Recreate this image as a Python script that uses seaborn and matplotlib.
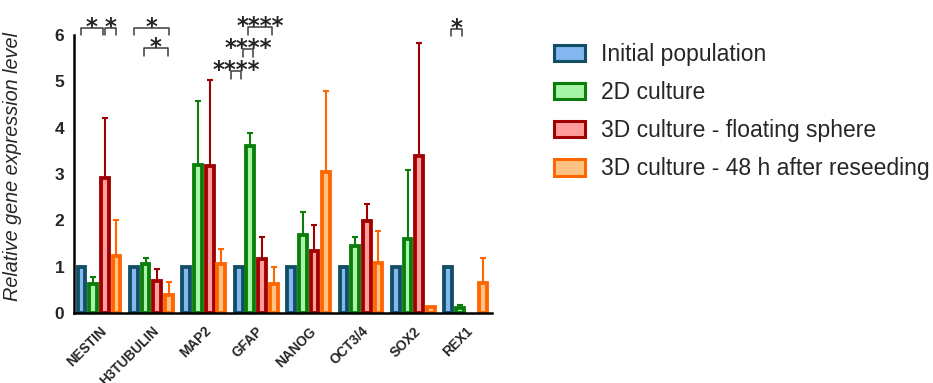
import numpy as np
import pandas as pd
import matplotlib
matplotlib.use("Agg")
import matplotlib.pyplot as plt
import matplotlib.patches as mpatches
import seaborn as sns

genes = ["NESTIN", "H3TUBULIN", "MAP2", "GFAP", "NANOG", "OCT3/4", "SOX2", "REX1"]
conditions = ["Initial population", "2D culture", "3D culture - floating sphere",
              "3D culture - 48 h after reseeding"]

initial_mean = [1.0, 1.0, 1.0, 1.0, 1.0, 1.0, 1.0, 1.0]
initial_err = [0, 0, 0, 0, 0, 0, 0, 0]
d2_mean = [0.62, 1.06, 3.20, 3.60, 1.69, 1.44, 1.60, 0.10]
d2_err = [0.16, 0.12, 1.38, 0.28, 0.49, 0.20, 1.48, 0.07]
float_mean = [2.91, 0.69, 3.18, 1.17, 1.33, 1.99, 3.39, np.nan]
float_err = [1.30, 0.26, 1.85, 0.46, 0.57, 0.37, 2.44, np.nan]
reseed_mean = [1.23, 0.38, 1.06, 0.62, 3.04, 1.08, 0.13, 0.64]
reseed_err = [0.78, 0.29, 0.33, 0.38, 1.75, 0.69, 0, 0.55]

edge_colors = ["#124e66", "#0a7d0a", "#a00000", "#ff6600"]
fill_colors = ["#84b6ef", "#a6f4a6", "#ff9c9c", "#ffc285"]

# significance comparisons: (x_left, x_right, y, label) in data units
brackets = [
    (-0.35, 0.076, 6.16, "*"),
    (0.115, 0.324, 6.16, "*"),
    (0.668, 1.336, 6.16, "*"),
    (0.859, 1.317, 5.72, "*"),
    (2.519, 2.71, 5.22, "****"),
    (2.742, 2.945, 5.70, "****"),
    (2.84, 3.31, 6.17, "****"),
    (6.71, 6.92, 6.14, "*"),
]

means = [initial_mean, d2_mean, float_mean, reseed_mean]
errs = [initial_err, d2_err, float_err, reseed_err]
rows = []
for c, m, e in zip(conditions, means, errs):
    for g, mv, ev in zip(genes, m, e):
        rows.append({"gene": g, "condition": c, "value": mv, "err": ev})
df = pd.DataFrame(rows)
plot_df = df.dropna(subset=["value"])

sns.set_style("white")
plt.rcParams["font.family"] = ["Liberation Sans", "DejaVu Sans"]

LW = 2.75

fig = plt.figure(figsize=(9.33, 3.83), dpi=100)
ax = fig.add_axes([74 / 933, 1 - 313 / 383, (492 - 74) / 933, (313 - 35) / 383])

sns.barplot(data=plot_df, x="gene", y="value", hue="condition", order=genes,
            hue_order=conditions, palette=fill_colors, errorbar=None,
            width=0.89, gap=0.33, linewidth=LW, ax=ax, legend=False, zorder=2)

bar_containers = list(ax.containers)
for ci, cont in enumerate(bar_containers):
    cond = conditions[ci]
    for p in cont.patches:
        p.set_edgecolor(edge_colors[ci])
        p.set_facecolor(fill_colors[ci])
        p.set_linewidth(LW)
        xc = p.get_x() + p.get_width() / 2
        gi = int(round(xc))
        row = df[(df.gene == genes[gi]) & (df.condition == cond)].iloc[0]
        if row.err and not np.isnan(row.err) and row.err > 0:
            ax.errorbar([xc], [p.get_height()], yerr=[[0], [row.err]],
                        fmt="none", ecolor=edge_colors[ci], elinewidth=1.5,
                        capsize=2, capthick=1.5, zorder=1)

ax.set_xlim(-0.477, 7.5)
ax.set_ylim(0, 6)
ax.set_yticks([0, 1, 2, 3, 4, 5, 6])
ax.set_xlabel("")
ax.set_ylabel("Relative gene expression level", fontsize=14.3, style="italic")
ax.yaxis.set_label_coords(-0.124, 0.525)
for side in ["top", "right"]:
    ax.spines[side].set_visible(False)
for side in ["left", "bottom"]:
    ax.spines[side].set_linewidth(1.8)
    ax.spines[side].set_color("black")
ax.tick_params(axis="both", direction="out", length=5, width=1.8, color="black")
ax.tick_params(axis="y", labelsize=12.5, pad=2)
for t in ax.get_yticklabels():
    t.set_fontweight("bold")
ax.set_xticks(range(len(genes)))
ax.set_xticklabels(genes, rotation=45, ha="right", rotation_mode="anchor",
                   fontsize=9.8, fontweight="bold")
ax.tick_params(axis="x", pad=3)

tip = 0.17
for x1, x2, y, lab in brackets:
    ax.plot([x1, x1, x2, x2], [y - tip, y, y, y - tip], color="#3c3c3c",
            lw=1.1, clip_on=False, zorder=5)
    ax.annotate(lab, ((x1 + x2) / 2, y), xytext=(0, -4.5), textcoords="offset points",
                ha="center", va="baseline", fontsize=16.5, fontweight="bold",
                family="DejaVu Sans", annotation_clip=False)

handles = [mpatches.Patch(facecolor=f, edgecolor=e, linewidth=2.2)
           for f, e in zip(fill_colors, edge_colors)]
fig.legend(handles, conditions, loc="upper left",
           bbox_to_anchor=(554 / 933, 1 - 43 / 383), frameon=False,
           fontsize=16.5, handlelength=1.35, handleheight=0.72, handletextpad=0.7,
           labelspacing=0.66, borderpad=0, borderaxespad=0)

fig.savefig("out.png", dpi=100)
